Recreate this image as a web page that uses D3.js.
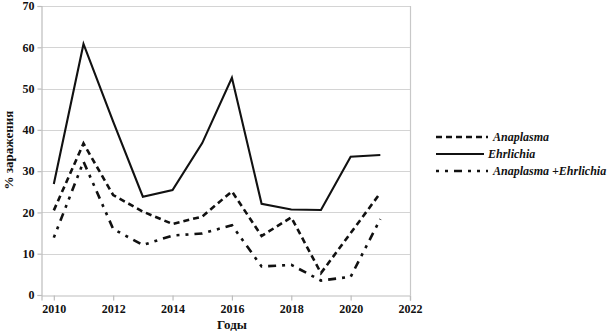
<!DOCTYPE html>
<html><head><meta charset="utf-8">
<script src="https://cdn.jsdelivr.net/npm/d3@7"></script>
<style>body{margin:0;background:#fff}svg{display:block}</style>
</head><body>
<svg id="c" width="610" height="334"></svg>
<script>
const years = [2010,2011,2012,2013,2014,2015,2016,2017,2018,2019,2020,2021];
const anaplasma = [20.5,36.7,24.2,20.2,17.2,19.0,25.1,14.3,18.8,5.3,15.0,24.7];
const ehrlichia = [26.9,60.8,42.0,23.8,25.4,36.8,52.6,22.1,20.7,20.6,33.5,33.9];
const anaEhr = [13.9,32.3,16.0,12.1,14.4,14.9,16.9,6.9,7.3,3.5,4.4,18.4];
const xTicks = [2010,2012,2014,2016,2018,2020,2022];
const yTicks = [0,10,20,30,40,50,60,70];
const seriesNames = ["Anaplasma","Ehrlichia","Anaplasma +Ehrlichia"];

const svg = d3.select("#c");
const x = d3.scaleLinear().domain([2009.585,2022]).range([41.5,410]);
const y = d3.scaleLinear().domain([0,70]).range([295,6]);
const font = "'Liberation Serif','Times New Roman',serif";

// grid
svg.append("g").selectAll("line").data(yTicks.filter(d=>d>0)).join("line")
  .attr("x1",x.range()[0]).attr("x2",x.range()[1])
  .attr("y1",d=>Math.round(y(d))+0.5).attr("y2",d=>Math.round(y(d))+0.5)
  .attr("stroke","#d4d4d4").attr("stroke-width",1.2);
// right border
svg.append("line").attr("x1",410.5).attr("x2",410.5).attr("y1",y(70)).attr("y2",y(0))
  .attr("stroke","#c8c8c8").attr("stroke-width",1.2);

const yAxis = svg.append("g").attr("transform","translate(41.5,0)")
  .call(d3.axisLeft(y).tickValues(yTicks).tickSize(4).tickPadding(3));
const xAxis = svg.append("g").attr("transform","translate(0,295.5)")
  .call(d3.axisBottom(x).tickValues(xTicks).tickFormat(d3.format("d")).tickSize(5).tickPadding(4));
[yAxis,xAxis].forEach(a=>{
  a.selectAll(".domain,line").attr("stroke","#bdbdbd").attr("stroke-width",1.2);
  a.selectAll("text").attr("font-family",font).attr("font-weight","bold")
   .attr("font-size","12px").attr("fill","#111");
});

const line = d3.line().x((d,i)=>x(years[i])).y(d=>y(d));
const styles = [
  {data:anaplasma, dash:"6,4", w:2.6},
  {data:ehrlichia, dash:null, w:2.1},
  {data:anaEhr, dash:"3,6,3,6,8,6", w:2.6}
];
styles.forEach(s=>{
  svg.append("path").attr("d",line(s.data)).attr("fill","none")
    .attr("stroke","#111").attr("stroke-width",s.w)
    .attr("stroke-dasharray",s.dash).attr("stroke-linejoin","miter");
});

// axis titles
svg.append("text").attr("x",x(2016)).attr("y",329).attr("text-anchor","middle")
  .attr("font-family",font).attr("font-weight","bold").attr("font-size","13px").attr("fill","#111").text("Годы");
svg.append("text").attr("transform","translate(13,150) rotate(-90)").attr("text-anchor","middle")
  .attr("font-family",font).attr("font-weight","bold").attr("font-size","13px").attr("fill","#111").text("% заражения");

// legend
const lg = svg.append("g");
const lyPos = [137,154,171];
styles.forEach((s,i)=>{
  lg.append("line").attr("x1",436).attr("x2",i===1?484:488).attr("y1",lyPos[i]).attr("y2",lyPos[i])
    .attr("stroke","#111").attr("stroke-width",s.w).attr("stroke-dasharray",s.dash);
  lg.append("text").attr("x",i===1?488:493).attr("y",lyPos[i]+4)
    .attr("font-family",font).attr("font-weight","bold").attr("font-style","italic")
    .attr("font-size","12px").attr("fill","#111").text(seriesNames[i]);
});
</script>
</body></html>
